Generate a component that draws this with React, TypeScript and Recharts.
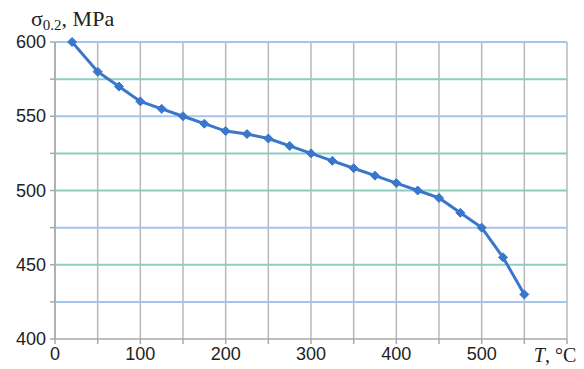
import { LineChart, Line, XAxis, YAxis, CartesianGrid, ReferenceLine, Label } from 'recharts'

// temperature, °C
const temps = [20, 50, 75, 100, 125, 150, 175, 200, 225, 250, 275, 300, 325, 350, 375, 400, 425, 450, 475, 500, 525, 550]
// yield strength sigma 0.2, MPa
const sigma = [600, 580, 570, 560, 555, 550, 545, 540, 538, 535, 530, 525, 520, 515, 510, 505, 500, 495, 485, 475, 455, 430]

const xTicks = [0, 50, 100, 150, 200, 250, 300, 350, 400, 450, 500, 550, 600]
const yTicks = [400, 425, 450, 475, 500, 525, 550, 575, 600]
const gridRows = [425, 450, 475, 500, 525, 550, 575, 600]

const BLUE = '#3a76cc'
const rowColor = (v: number) =>
  v === 425 || v === 475 || v === 550 || v === 600 ? '#a6c4ee' : '#8ccdc2'

const data = temps.map((t, i) => ({ t, s: sigma[i] }))

const font = '"Liberation Sans", Arial, sans-serif'
const serif = '"Liberation Serif", "Times New Roman", serif'

function Diamond(props: any) {
  const { cx, cy } = props
  if (cx == null || cy == null) return null
  const r = 4.5
  return (
    <polygon
      points={`${cx},${cy - r} ${cx + r},${cy} ${cx},${cy + r} ${cx - r},${cy}`}
      fill={BLUE}
      stroke={BLUE}
      strokeWidth={1}
    />
  )
}

function XTick(props: any) {
  const { x, y, payload } = props
  const v = payload.value
  if (v === 600) {
    return (
      <text x={x - 12} y={y + 16} textAnchor="middle" fill="#222" fontSize={20} fontFamily={serif}>
        <tspan fontStyle="italic">T</tspan>, °C
      </text>
    )
  }
  if (v % 100 !== 0) return null
  return (
    <text x={x} y={y + 14} textAnchor="middle" fill="#222" fontSize={18} fontFamily={font}>
      {v}
    </text>
  )
}

function YTick(props: any) {
  const { x, y, payload } = props
  const v = payload.value
  if (v % 50 !== 0) return null
  return (
    <text x={x} y={y + 6} textAnchor="end" fill="#222" fontSize={18} fontFamily={font}>
      {v}
    </text>
  )
}

export default function App() {
  return (
    <div style={{ position: 'absolute', left: 0, top: 0, background: '#fff' }}>
      <LineChart width={584} height={369} data={data} margin={{ top: 42, right: 17, bottom: 0, left: 0 }}>
        <CartesianGrid horizontal={false} vertical stroke="#b8b8b8" strokeWidth={1.5} />
        {gridRows.map((v) => (
          <ReferenceLine key={v} y={v} stroke={rowColor(v)} strokeWidth={2} />
        ))}
        <XAxis
          dataKey="t"
          type="number"
          domain={[0, 600]}
          ticks={xTicks}
          interval={0}
          tick={<XTick />}
          tickSize={5}
          stroke="#a8a8a8"
          strokeWidth={1.5}
          height={30}
        />
        <YAxis
          type="number"
          domain={[400, 600]}
          ticks={yTicks}
          interval={0}
          tick={<YTick />}
          tickSize={5}
          tickMargin={4}
          stroke="#a8a8a8"
          strokeWidth={1.5}
          width={55}
        >
          <Label
            content={() => (
              <text x={31} y={26} fill="#222" fontSize={22} fontFamily={serif}>
                σ<tspan fontSize={15} dy={4}>0.2</tspan>
                <tspan dy={-4}>, MPa</tspan>
              </text>
            )}
          />
        </YAxis>
        <Line
          type="linear"
          dataKey="s"
          stroke={BLUE}
          strokeWidth={3}
          dot={<Diamond />}
          activeDot={false}
          isAnimationActive={false}
        />
      </LineChart>
    </div>
  )
}
